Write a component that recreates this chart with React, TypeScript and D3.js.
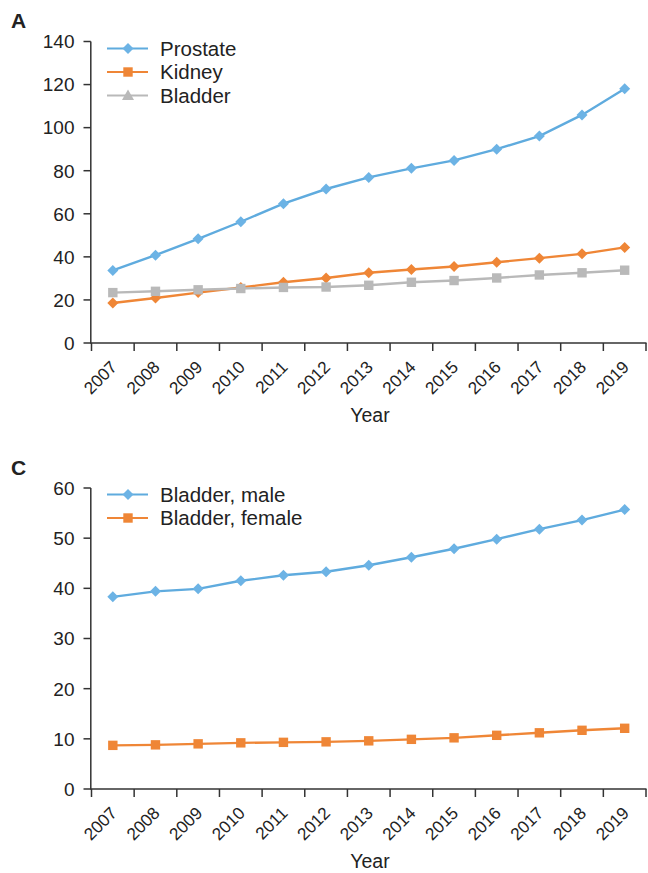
import React from "react";
import * as d3 from "d3";

const years = ["2007","2008","2009","2010","2011","2012","2013","2014","2015","2016","2017","2018","2019"];
const prostate = [33.7,40.8,48.4,56.3,64.7,71.5,76.9,81.1,84.8,90.0,96.1,105.9,118.1];
const kidney = [18.6,20.9,23.4,25.8,28.2,30.2,32.6,34.1,35.5,37.5,39.4,41.4,44.4];
const bladder = [23.4,24.0,24.7,25.3,25.8,26.0,26.8,28.2,29.0,30.2,31.6,32.6,33.8];
const bladderMale = [38.3,39.4,39.9,41.5,42.6,43.3,44.6,46.2,47.9,49.8,51.8,53.6,55.7];
const bladderFemale = [8.7,8.8,9.0,9.2,9.3,9.4,9.6,9.9,10.2,10.7,11.2,11.7,12.1];
const ticksA = [0,20,40,60,80,100,120,140];
const ticksC = [0,10,20,30,40,50,60];

const BLUE = "#5fabde";
const BLUE_M = "#6cb3e5";
const ORANGE = "#ef8636";
const GRAY = "#b9b9b9";
const FONT = "Liberation Sans, Arial, sans-serif";

type Series = { name: string; values: number[]; color: string; mcolor: string; marker: string; legendMarker: string };

function Marker({ type, x, y, color }: { type: string; x: number; y: number; color: string }) {
  if (type === "diamond") {
    const p = d3.path();
    p.moveTo(x, y - 5.5);
    p.lineTo(x + 5.5, y);
    p.lineTo(x, y + 5.5);
    p.lineTo(x - 5.5, y);
    p.closePath();
    return <path d={p.toString()} fill={color} />;
  }
  if (type === "square") {
    return <rect x={x - 4.7} y={y - 4.7} width={9.4} height={9.4} fill={color} />;
  }
  const p = d3.path();
  p.moveTo(x, y - 6);
  p.lineTo(x + 6, y + 4.5);
  p.lineTo(x - 6, y + 4.5);
  p.closePath();
  return <path d={p.toString()} fill={color} />;
}

function Panel({ y0, y1, max, ticks, series, label, labelY, legendY }: any) {
  const x = d3.scaleBand<string>().domain(years).range([91.5, 646]);
  const y = d3.scaleLinear().domain([0, max]).range([y0, y1]);
  const cxOf = (i: number) => (x(years[i]) as number) + x.bandwidth() / 2;
  const line = d3.line<number>().x((_, i) => cxOf(i)).y((d) => y(d));
  const boundaries = years.map((yr) => x(yr) as number).concat([646]);
  return (
    <g>
      <text x={11} y={labelY} fontFamily={FONT} fontWeight="bold" fontSize={21} fill="#222">{label}</text>
      <line x1={90.8} x2={90.8} y1={y1} y2={y0} stroke="#333" strokeWidth={1.5} />
      {ticks.map((t: number) => (
        <g key={t}>
          <line x1={83.5} x2={90.8} y1={y(t)} y2={y(t)} stroke="#333" strokeWidth={1.5} />
          <text x={74.5} y={y(t)} dy="0.36em" textAnchor="end" fontFamily={FONT} fontSize={19} fill="#222">{t}</text>
        </g>
      ))}
      <line x1={90} x2={646.5} y1={y0} y2={y0} stroke="#333" strokeWidth={1.5} />
      {boundaries.map((b, i) => (
        <line key={i} x1={b} x2={b} y1={y0} y2={y0 + 8} stroke="#333" strokeWidth={1.5} />
      ))}
      {years.map((yr, i) => (
        <text key={yr} transform={`translate(${cxOf(i) + 1},${y0 + 21}) rotate(-45)`} textAnchor="end" dy="0.35em" fontFamily={FONT} fontSize={17.2} fill="#222">{yr}</text>
      ))}
      <text x={370} y={y0 + 79} textAnchor="middle" fontFamily={FONT} fontSize={19.5} fill="#222">Year</text>
      {series.map((s: Series) => (
        <g key={s.name}>
          <path d={line(s.values) || ""} fill="none" stroke={s.color} strokeWidth={2.4} />
          {s.values.map((v, i) => (
            <Marker key={i} type={s.marker} x={cxOf(i)} y={y(v)} color={s.mcolor} />
          ))}
        </g>
      ))}
      {series.map((s: Series, i: number) => {
        const ly = legendY + i * 23.5;
        return (
          <g key={"lg" + s.name}>
            <line x1={107} x2={148} y1={ly} y2={ly} stroke={s.color} strokeWidth={2} />
            <Marker type={s.legendMarker} x={128} y={ly} color={s.mcolor} />
            <text x={160} y={ly} dy="0.36em" fontFamily={FONT} fontSize={20.5} fill="#222">{s.name}</text>
          </g>
        );
      })}
    </g>
  );
}

export default function App() {
  const seriesA: Series[] = [
    { name: "Prostate", values: prostate, color: BLUE, mcolor: BLUE_M, marker: "diamond", legendMarker: "diamond" },
    { name: "Kidney", values: kidney, color: ORANGE, mcolor: ORANGE, marker: "diamond", legendMarker: "square" },
    { name: "Bladder", values: bladder, color: GRAY, mcolor: GRAY, marker: "square", legendMarker: "triangle" },
  ];
  const seriesC: Series[] = [
    { name: "Bladder, male", values: bladderMale, color: BLUE, mcolor: BLUE_M, marker: "diamond", legendMarker: "diamond" },
    { name: "Bladder, female", values: bladderFemale, color: ORANGE, mcolor: ORANGE, marker: "square", legendMarker: "square" },
  ];
  return (
    <svg width={648} height={873} style={{ position: "absolute", left: 0, top: 0, background: "#fff" }}>
      <rect width={648} height={873} fill="#fff" />
      <Panel y0={343} y1={41.5} max={140} ticks={ticksA} series={seriesA} label="A" labelY={28} legendY={48.5} />
      <Panel y0={789} y1={488} max={60} ticks={ticksC} series={seriesC} label="C" labelY={475} legendY={494.5} />
    </svg>
  );
}
